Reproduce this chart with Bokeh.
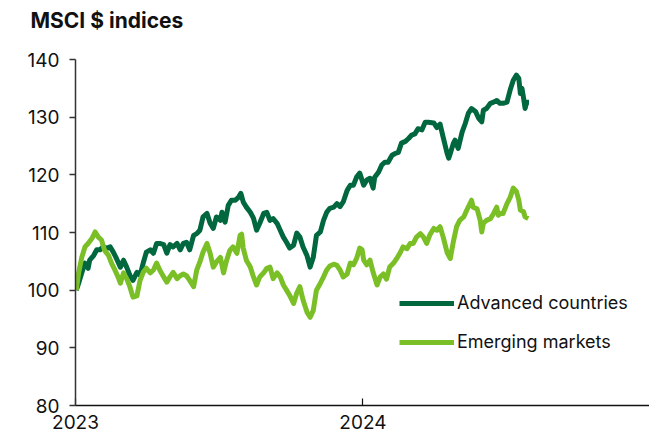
import pandas as pd
from bokeh.plotting import figure
from bokeh.models import Range1d, Legend, LegendItem, DatetimeTickFormatter, FixedTicker, Title
from bokeh.embed import file_html
from bokeh.resources import INLINE

# ---- data ----
start = pd.Timestamp("2023-01-01")

adv_days = [1, 4, 8, 12, 16, 18, 23, 27, 31, 35, 40, 44, 48, 52, 57, 61, 65, 69, 73, 78,
            82, 86, 90, 95, 99, 103, 107, 112, 116, 120, 124, 129, 133, 137, 141, 145, 150, 154, 158, 162,
            167, 171, 175, 179, 184, 186, 190, 194, 198, 203, 207, 210, 213, 217, 222, 226, 230, 234, 239, 243,
            247, 251, 256, 260, 264, 268, 272, 277, 281, 285, 289, 294, 298, 302, 306, 311, 315, 319, 323, 328,
            332, 336, 340, 345, 349, 353, 357, 361, 366, 370, 374, 378, 380, 385, 389, 393, 397, 402, 406, 410,
            414, 419, 423, 427, 431, 435, 440, 444, 448, 455, 459, 463, 467, 472, 474, 476, 480, 482, 486, 491,
            495, 499, 503, 508, 512, 516, 518, 522, 527, 531, 535, 539, 543, 548, 552, 556, 560, 563, 565, 567,
            569, 571, 573, 576]
adv_vals = [100.0, 101.2, 103.0, 104.7, 103.8, 105.2, 106.0, 107.0, 107.0, 107.5, 107.3, 107.5, 106.6, 105.5, 104.0, 105.2, 104.0, 102.6, 101.7, 103.1,
            102.6, 104.7, 106.6, 107.0, 106.4, 108.1, 108.1, 107.9, 106.4, 107.9, 107.5, 108.1, 107.0, 108.1, 108.3, 107.0, 109.5, 109.8, 110.4, 112.7,
            113.3, 111.6, 110.7, 112.7, 112.1, 113.5, 111.8, 114.7, 115.6, 115.6, 116.1, 116.8, 115.3, 114.4, 113.5, 112.5, 110.4, 111.6, 113.3, 113.5,
            112.1, 112.4, 111.6, 110.4, 109.2, 108.3, 107.3, 107.8, 109.9, 109.2, 107.5, 106.0, 104.0, 105.7, 109.5, 110.1, 112.1, 113.5, 114.2, 114.4,
            115.0, 114.5, 115.3, 117.3, 118.2, 118.2, 119.6, 120.3, 118.2, 119.1, 119.4, 117.7, 119.6, 120.5, 121.7, 122.2, 122.2, 123.4, 123.7, 123.9,
            125.5, 125.8, 126.3, 126.9, 127.1, 128.0, 127.8, 129.1, 129.1, 129.0, 128.2, 128.8, 126.5, 123.7, 122.9, 123.7, 125.5, 126.0, 124.6, 127.4,
            128.9, 130.7, 131.5, 131.0, 129.8, 129.2, 131.2, 131.5, 132.4, 132.6, 132.9, 132.4, 132.4, 132.6, 134.7, 136.4, 137.3, 136.7, 134.1, 135.0,
            133.4, 131.5, 132.6, 132.6]

em_days = [1, 4, 8, 12, 16, 21, 25, 29, 33, 37, 42, 46, 50, 54, 57, 61, 65, 69, 73, 78,
           82, 86, 90, 95, 99, 103, 107, 112, 116, 120, 124, 129, 133, 137, 141, 145, 150, 154, 158, 162,
           167, 171, 175, 179, 184, 188, 192, 196, 200, 205, 209, 211, 213, 217, 222, 226, 230, 234, 239, 243,
           247, 251, 256, 260, 264, 268, 272, 277, 281, 285, 289, 294, 298, 302, 306, 311, 315, 319, 323, 328,
           332, 336, 340, 345, 349, 353, 357, 361, 364, 366, 370, 374, 378, 383, 387, 391, 395, 399, 404, 408,
           412, 416, 421, 425, 429, 433, 438, 442, 446, 450, 455, 459, 463, 467, 472, 476, 480, 484, 488, 493,
           497, 501, 503, 505, 510, 514, 516, 518, 522, 527, 531, 535, 537, 539, 543, 548, 552, 556, 560, 563,
           565, 569, 571, 575]
em_vals = [100.0, 103.0, 105.7, 107.5, 108.1, 109.0, 110.1, 109.2, 108.7, 106.9, 106.0, 104.6, 103.5, 102.3, 101.2, 103.0, 102.0, 100.6, 98.8, 99.0,
           101.7, 103.1, 103.8, 103.0, 103.5, 104.7, 103.5, 102.3, 101.4, 102.3, 103.1, 102.0, 102.5, 102.8, 102.5, 101.7, 100.6, 103.5, 104.9, 106.6,
           108.1, 106.4, 104.0, 104.9, 105.7, 103.0, 105.2, 106.9, 107.5, 106.4, 109.5, 109.7, 107.3, 105.2, 104.0, 102.3, 100.9, 102.3, 103.0, 103.8,
           104.0, 102.0, 103.0, 102.3, 100.9, 100.0, 99.1, 97.7, 99.5, 100.6, 98.3, 96.2, 95.3, 96.5, 100.0, 101.2, 102.3, 103.5, 104.2, 104.5,
           104.3, 103.5, 102.3, 102.8, 104.7, 104.4, 105.5, 107.3, 107.0, 105.2, 104.4, 105.2, 103.1, 100.9, 102.3, 102.8, 101.9, 104.0, 104.7, 105.5,
           106.4, 107.5, 107.2, 108.1, 108.1, 109.2, 109.8, 109.2, 108.1, 109.6, 110.7, 110.4, 111.0, 109.2, 106.5, 105.5, 108.5, 111.0, 112.1, 112.7,
           113.9, 115.0, 115.6, 114.4, 114.1, 112.1, 110.1, 111.6, 112.1, 112.4, 113.3, 114.4, 113.0, 113.3, 113.3, 115.0, 116.1, 117.7, 117.1, 115.6,
           113.9, 113.6, 112.7, 112.4]

series_names = ["Advanced countries", "Emerging markets"]
series_colors = ["#00673F", "#7BBF27"]
y_ticks = [80, 90, 100, 110, 120, 130, 140]
x_tick_dates = ["2023-01-01", "2024-01-01"]
title_text = "MSCI $ indices"

adv_x = start + pd.to_timedelta(adv_days, unit="D")
em_x = start + pd.to_timedelta(em_days, unit="D")

FONT = "Inter"

p = figure(width=649, height=438, output_backend="svg", toolbar_location=None,
           x_axis_type="datetime",
           x_range=Range1d(start, start + pd.Timedelta(days=729)),
           y_range=Range1d(80, 140),
           min_border_left=75, min_border_right=0, min_border_top=59, min_border_bottom=33)

p.title.text = title_text
p.title.text_font = FONT
p.title.text_font_size = "21px"
p.title.text_font_style = "bold"
p.title.text_color = "#111111"
p.title.align = "left"
p.title.offset = -45

# empty spacer between the title and the plot frame
p.add_layout(Title(text=" ", text_font_size="9px"), "above")

p.outline_line_color = None
p.xgrid.visible = False
p.ygrid.visible = False
p.background_fill_color = "white"
p.border_fill_color = "white"

r1 = p.line(adv_x, adv_vals, line_color=series_colors[0], line_width=5, line_join="round")
r2 = p.line(em_x, em_vals, line_color=series_colors[1], line_width=5, line_join="round")

# y axis
p.yaxis.ticker = FixedTicker(ticks=y_ticks)
p.yaxis.major_tick_out = 6
p.yaxis.major_tick_in = 0
p.yaxis.minor_tick_line_color = None
p.yaxis.axis_line_color = "#333333"
p.yaxis.axis_line_width = 1.5
p.yaxis.major_tick_line_color = "#333333"
p.yaxis.major_tick_line_width = 1.5
p.yaxis.major_label_text_font = FONT
p.yaxis.major_label_text_font_size = "19px"
p.yaxis.major_label_text_color = "#111111"
p.yaxis.major_label_standoff = 10

# x axis
xt = [pd.Timestamp(d).value // 10**6 for d in x_tick_dates]
p.xaxis.ticker = FixedTicker(ticks=xt)
p.xaxis.formatter = DatetimeTickFormatter(years="%Y", months="%Y", days="%Y", hours="%Y",
                                          hourmin="%Y", minutes="%Y", minsec="%Y", seconds="%Y",
                                          milliseconds="%Y", microseconds="%Y")
p.xaxis.major_tick_in = 7
p.xaxis.major_tick_out = 0
p.xaxis.minor_tick_line_color = None
p.xaxis.axis_line_color = "#111111"
p.xaxis.axis_line_width = 1.5
p.xaxis.major_tick_line_color = "#111111"
p.xaxis.major_tick_line_width = 1.2
p.xaxis.major_label_text_font = FONT
p.xaxis.major_label_text_font_size = "19px"
p.xaxis.major_label_text_color = "#111111"
p.xaxis.major_label_standoff = 9

legend = Legend(items=[LegendItem(label=series_names[0], renderers=[r1]),
                       LegendItem(label=series_names[1], renderers=[r2])],
                location=(324, 53))
legend.glyph_width = 55
legend.glyph_height = 20
legend.label_standoff = 3
legend.spacing = 18
legend.padding = 0
legend.margin = 0
legend.border_line_color = None
legend.background_fill_alpha = 0
legend.label_text_font = FONT
legend.label_text_font_size = "18px"
legend.label_text_color = "#111111"
p.add_layout(legend)

open("out.html", "w").write(file_html(p, INLINE))
